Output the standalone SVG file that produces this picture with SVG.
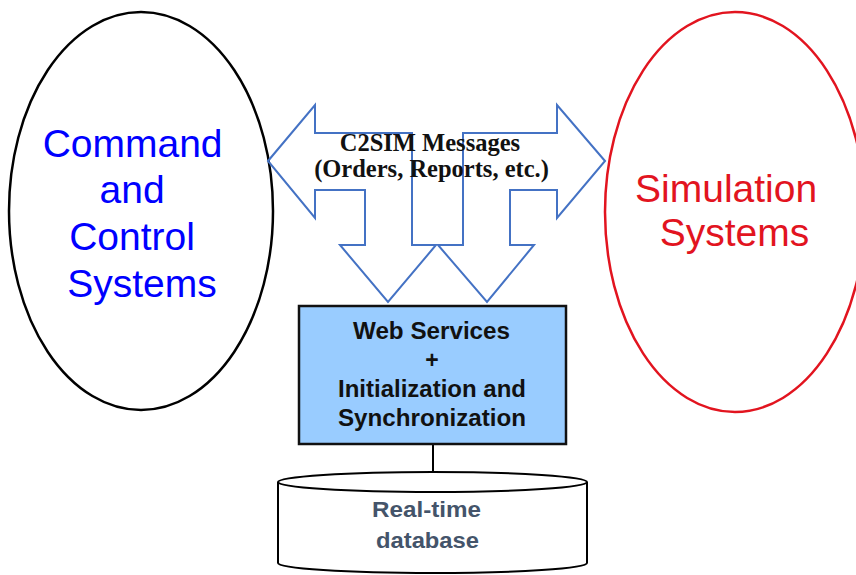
<svg xmlns="http://www.w3.org/2000/svg" width="856" height="575" viewBox="0 0 856 575">
  <style>
    .big { font-family: "Liberation Sans", Arial, sans-serif; font-size: 39px; text-anchor: middle; }
    .boxt { font-family: "Liberation Sans", Arial, sans-serif; font-size: 23px; font-weight: bold; text-anchor: middle; fill: #111111; }
    .dbt { font-family: "Liberation Sans", Arial, sans-serif; font-size: 22px; font-weight: bold; text-anchor: middle; fill: #44546A; }
    .msg { font-family: "Liberation Serif", "Times New Roman", serif; font-size: 24.5px; font-weight: bold; text-anchor: middle; fill: #111111; }
    .barrow { fill: none; stroke: #4472C4; stroke-width: 2; stroke-linejoin: miter; }
  </style>
  <rect x="0" y="0" width="856" height="575" fill="#ffffff"/>

  <g id="command-control">
    <ellipse cx="141" cy="211" rx="132" ry="199" fill="none" stroke="#000000" stroke-width="2.5"/>
    <text class="big" fill="#0000FF">
      <tspan x="138" y="157">Command</tspan>
      <tspan x="137.5" y="203">and</tspan>
      <tspan x="137.5" y="250">Control</tspan>
      <tspan x="142" y="297">Systems</tspan>
    </text>
  </g>

  <g id="simulation">
    <ellipse cx="735" cy="212" rx="130" ry="200" fill="none" stroke="#E2141F" stroke-width="2.5"/>
    <text class="big" fill="#E2141F">
      <tspan x="731.5" y="202">Simulation</tspan>
      <tspan x="734.5" y="246">Systems</tspan>
    </text>
  </g>

  <g id="connectors">
    <path class="barrow" d="M268,161 L315,105 L315,133 L412,133 L412,245 L436,245 L388,302 L340,245 L365,245 L365,190 L315,190 L315,218 Z"/>
    <path class="barrow" d="M605,161 L557,105 L557,133 L463,133 L463,245 L438,245 L487,302 L534,245 L510,245 L510,190 L557,190 L557,218 Z"/>
    <text class="msg">
      <tspan x="433" y="151">C2SIM Messages</tspan>
      <tspan x="431.5" y="177">(Orders, Reports, etc.)</tspan>
    </text>
    <line x1="433" y1="444" x2="433" y2="474" stroke="#000000" stroke-width="2"/>
  </g>

  <g id="web-services">
    <rect x="299" y="306" width="267" height="138" fill="#99CCFF" stroke="#111111" stroke-width="2.5"/>
    <text class="boxt" x="431.5" y="339" textLength="157" lengthAdjust="spacingAndGlyphs">Web Services</text>
    <text class="boxt" x="432" y="368">+</text>
    <text class="boxt" x="432" y="397" textLength="188" lengthAdjust="spacingAndGlyphs">Initialization and</text>
    <text class="boxt" x="432" y="426" textLength="188" lengthAdjust="spacingAndGlyphs">Synchronization</text>
  </g>

  <g id="database">
    <path d="M278,482 L278,563 A154.5,10 0 0 0 587,563 L587,482" fill="#ffffff" stroke="#000000" stroke-width="2"/>
    <ellipse cx="432.5" cy="482" rx="154.5" ry="10" fill="#ffffff" stroke="#000000" stroke-width="2"/>
    <text class="dbt" x="426.5" y="517" textLength="109" lengthAdjust="spacingAndGlyphs">Real-time</text>
    <text class="dbt" x="427.5" y="548" textLength="103" lengthAdjust="spacingAndGlyphs">database</text>
  </g>
</svg>
